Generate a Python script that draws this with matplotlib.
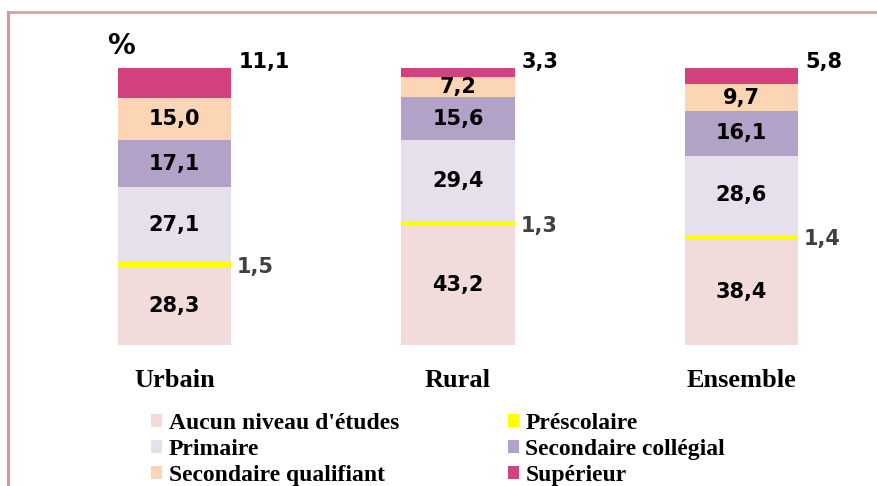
import matplotlib
matplotlib.use("Agg")
import matplotlib.pyplot as plt
from matplotlib.lines import Line2D
import numpy as np

categories = ["Urbain", "Rural", "Ensemble"]
series_names = ["Aucun niveau d'études", "Préscolaire", "Primaire",
                "Secondaire collégial", "Secondaire qualifiant", "Supérieur"]
aucun = [28.3, 43.2, 38.4]
prescolaire = [1.5, 1.3, 1.4]
primaire = [27.1, 29.4, 28.6]
sec_collegial = [17.1, 15.6, 16.1]
sec_qualifiant = [15.0, 7.2, 9.7]
superieur = [11.1, 3.3, 5.8]
value_labels = {
    "aucun": ["28,3", "43,2", "38,4"],
    "prescolaire": ["1,5", "1,3", "1,4"],
    "primaire": ["27,1", "29,4", "28,6"],
    "sec_collegial": ["17,1", "15,6", "16,1"],
    "sec_qualifiant": ["15,0", "7,2", "9,7"],
    "superieur": ["11,1", "3,3", "5,8"],
}

series = [aucun, prescolaire, primaire, sec_collegial, sec_qualifiant, superieur]
keys = ["aucun", "prescolaire", "primaire", "sec_collegial", "sec_qualifiant", "superieur"]
colors = ["#f2dcdb", "#ffff00", "#e6e0ec", "#b3a2c7", "#fcd5b5", "#d4417f"]

W, H = 877, 486
fig = plt.figure(figsize=(W / 100, H / 100), dpi=100)
left_px = 174.5 - 141.75
ax = fig.add_axes([left_px / W, (H - 345) / H, 850.5 / W, 277 / H])
ax.set_xlim(-0.5, 2.5)
ax.set_ylim(0, 100)

x = np.arange(len(categories))
bw = 0.4
bottom = np.zeros(len(categories))
containers = []
for vals, key, col, name in zip(series, keys, colors, series_names):
    vals = np.array(vals)
    bc = ax.bar(x, vals, bw, bottom=bottom, color=col, label=name, linewidth=0)
    containers.append(bc)
    for i in range(len(x)):
        lab = value_labels[key][i]
        if key == "prescolaire":
            ax.text(x[i] + bw / 2 + 0.02, bottom[i] + vals[i] / 2 - 1, lab,
                    ha="left", va="center", fontsize=15, fontweight="bold",
                    color="#404040", family="DejaVu Sans", clip_on=False)
        elif key == "superieur":
            ax.text(x[i] + bw / 2 + 0.025, bottom[i] + vals[i] + 2, lab,
                    ha="left", va="center", fontsize=15, fontweight="bold",
                    color="black", family="DejaVu Sans", clip_on=False)
        else:
            ax.text(x[i], bottom[i] + vals[i] / 2, lab,
                    ha="center", va="center", fontsize=15, fontweight="bold",
                    color="black", family="DejaVu Sans")
    bottom = bottom + vals

ax.set_xticks(x)
ax.set_xticklabels(categories, fontsize=19, fontweight="bold",
                   family="Liberation Serif")
ax.tick_params(axis="x", length=0, pad=17)
ax.set_yticks([])
for s in ax.spines.values():
    s.set_visible(False)

fig.text(121 / W, 1 - 46 / H, "%", ha="center", va="center", fontsize=20,
         fontweight="bold", family="DejaVu Sans")

order = [0, 2, 4, 1, 3, 5]
handles = [containers[k] for k in order]
labels = [series_names[k] for k in order]
leg = fig.legend(handles, labels, ncol=2, loc="upper left",
                 bbox_to_anchor=(151 / W, 1 - 413 / H),
                 frameon=False, borderpad=0, borderaxespad=0,
                 handlelength=0.47, handleheight=0.47, handletextpad=0.28,
                 columnspacing=4.6, labelspacing=0.21,
                 prop={"family": "Liberation Serif", "weight": "bold", "size": 17})

frame_col = "#d99694"
fig.add_artist(Line2D([8 / W, 1], [1 - 12.5 / H, 1 - 12.5 / H],
                      transform=fig.transFigure, color=frame_col, lw=1.8))
fig.add_artist(Line2D([8 / W, 8 / W], [0, 1 - 12.5 / H],
                      transform=fig.transFigure, color=frame_col, lw=2.2))

fig.savefig("out.png", dpi=100)
